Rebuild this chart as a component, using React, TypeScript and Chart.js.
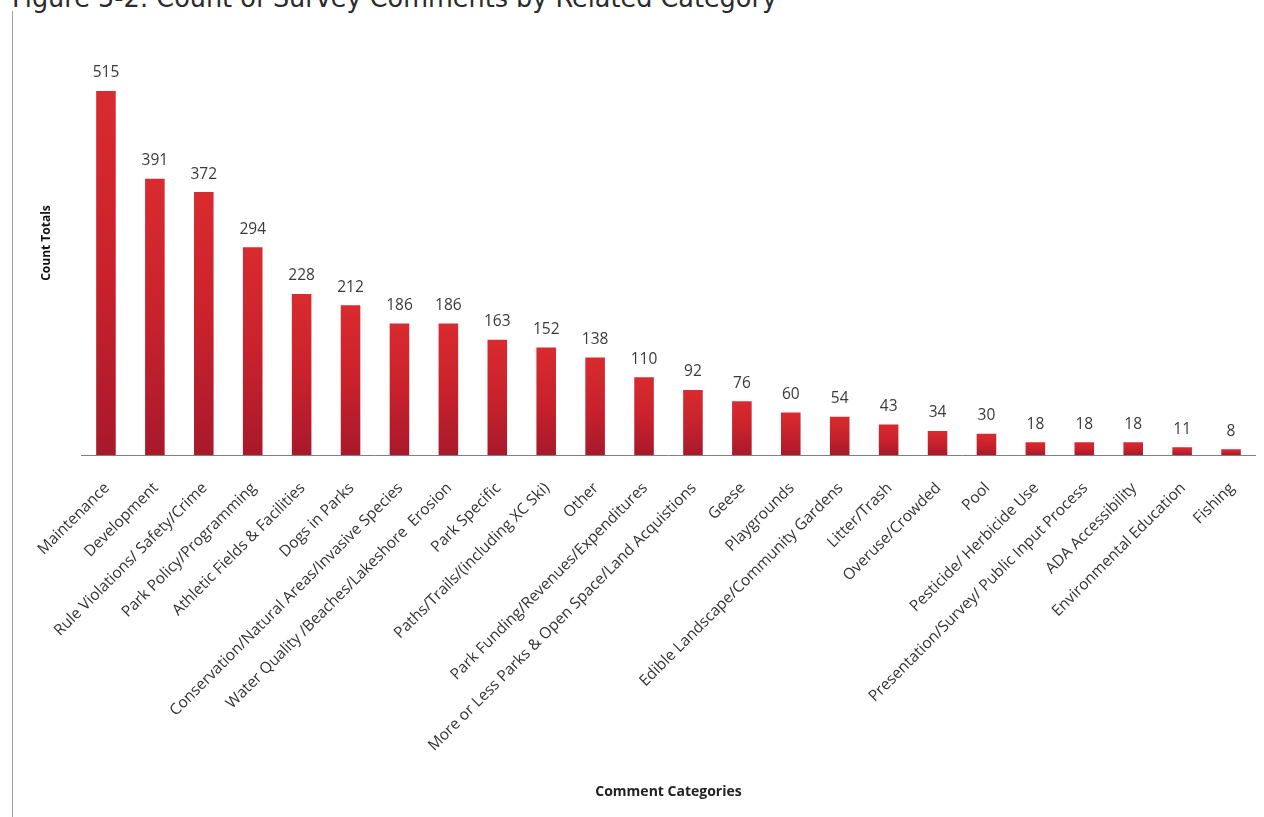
import React, { useEffect, useRef } from "react";
import { Chart, registerables } from "chart.js";

Chart.register(...registerables);

const titleText = "Figure 5-2: Count of Survey Comments by Related Category";
const yAxisTitle = "Count Totals";
const xAxisTitle = "Comment Categories";

const categories = [
  "Maintenance",
  "Development",
  "Rule Violations/ Safety/Crime",
  "Park Policy/Programming",
  "Athletic Fields & Facilities",
  "Dogs in Parks",
  "Conservation/Natural Areas/Invasive Species",
  "Water Quality /Beaches/Lakeshore  Erosion",
  "Park Specific",
  "Paths/Trails/(including XC Ski)",
  "Other",
  "Park Funding/Revenues/Expenditures",
  "More or Less Parks & Open Space/Land Acquistions",
  "Geese",
  "Playgrounds",
  "Edible Landscape/Community Gardens",
  "Litter/Trash",
  "Overuse/Crowded",
  "Pool",
  "Pesticide/ Herbicide Use",
  "Presentation/Survey/ Public Input Process",
  "ADA Accessibility",
  "Environmental Education",
  "Fishing",
];

const counts = [515, 391, 372, 294, 228, 212, 186, 186, 163, 152, 138, 110, 92, 76, 60, 54, 43, 34, 30, 18, 18, 18, 11, 8];

const yMin = 0;
const yMax = 600;

export default function App() {
  const ref = useRef<HTMLCanvasElement | null>(null);

  useEffect(() => {
    const canvas = ref.current;
    if (!canvas) return;

    const valueLabels = {
      id: "valueLabels",
      afterDatasetsDraw(chart: any) {
        const { ctx } = chart;
        const meta = chart.getDatasetMeta(0);
        ctx.save();
        ctx.font = '15.5px "Open Sans"';
        ctx.fillStyle = "#3a3a3a";
        ctx.textAlign = "center";
        ctx.textBaseline = "middle";
        meta.data.forEach((bar: any, i: number) => {
          ctx.fillText(String(chart.data.datasets[0].data[i]), bar.x, bar.y - 18);
        });
        ctx.restore();
      },
    };

    const chart = new Chart(canvas, {
      type: "bar",
      data: {
        labels: categories,
        datasets: [
          {
            data: counts,
            barPercentage: 0.4,
            categoryPercentage: 1,
            borderWidth: 0,
            backgroundColor: (c: any) => {
              const ch = c.chart;
              const area = ch.chartArea;
              const ys = ch.scales && ch.scales.y;
              if (!area || !ys || c.raw == null) return "#c8232c";
              const top = ys.getPixelForValue(c.raw);
              const g = ch.ctx.createLinearGradient(0, top, 0, area.bottom);
              g.addColorStop(0, "#d92b2f");
              g.addColorStop(0.5, "#c9222c");
              g.addColorStop(1, "#a8192b");
              return g;
            },
          },
        ],
      },
      options: {
        responsive: false,
        animation: false,
        layout: { padding: { left: 35.5, right: 8.5, top: 31, bottom: 13 } },
        plugins: {
          legend: { display: false },
          tooltip: { enabled: false },
          title: { display: false },
        },
        scales: {
          x: {
            grid: { display: false, drawTicks: false },
            border: { display: true, color: "#808080", width: 1 },
            ticks: {
              autoSkip: false,
              minRotation: 45,
              maxRotation: 45,
              padding: 24,
              labelOffset: 1,
              color: "#333333",
              font: { family: '"Open Sans"', size: 15.5 },
            },
            title: {
              display: true,
              text: xAxisTitle,
              color: "#222222",
              font: { family: '"Open Sans"', size: 14, weight: "bold" },
              padding: { top: 4, bottom: 4 },
            },
            afterFit(scale: any) {
              scale.height = 817 - 13 - 455;
              scale.paddingLeft = 0;
              scale.paddingRight = 0;
            },
          },
          y: {
            min: yMin,
            max: yMax,
            grid: { display: false, drawTicks: false },
            border: { display: false },
            ticks: { display: false },
            title: {
              display: true,
              text: yAxisTitle,
              color: "#111111",
              font: { family: '"Open Sans"', size: 12, weight: "bold" },
              padding: { top: 4, bottom: 4 },
            },
            afterFit(scale: any) {
              scale.width = 81.5 - 35.5;
            },
          },
        },
      },
      plugins: [valueLabels],
    });

    return () => chart.destroy();
  }, []);

  return (
    <div style={{ position: "fixed", left: 0, top: 0, width: 1264, height: 817, background: "#ffffff", overflow: "hidden" }}>
      <svg width={1264} height={30} style={{ position: "absolute", left: 0, top: 0 }}>
        <text x={12} y={7} textLength={765} lengthAdjust="spacingAndGlyphs" fontFamily='"DejaVu Sans"' fontSize={26} fill="#2b2b2b">
          {titleText}
        </text>
      </svg>
      <div style={{ position: "absolute", left: 11.5, top: 11, width: 1.5, height: 806, background: "#a0a0a0" }} />
      <canvas ref={ref} width={1264} height={817} style={{ position: "absolute", left: 0, top: 0, width: 1264, height: 817 }} />
    </div>
  );
}
